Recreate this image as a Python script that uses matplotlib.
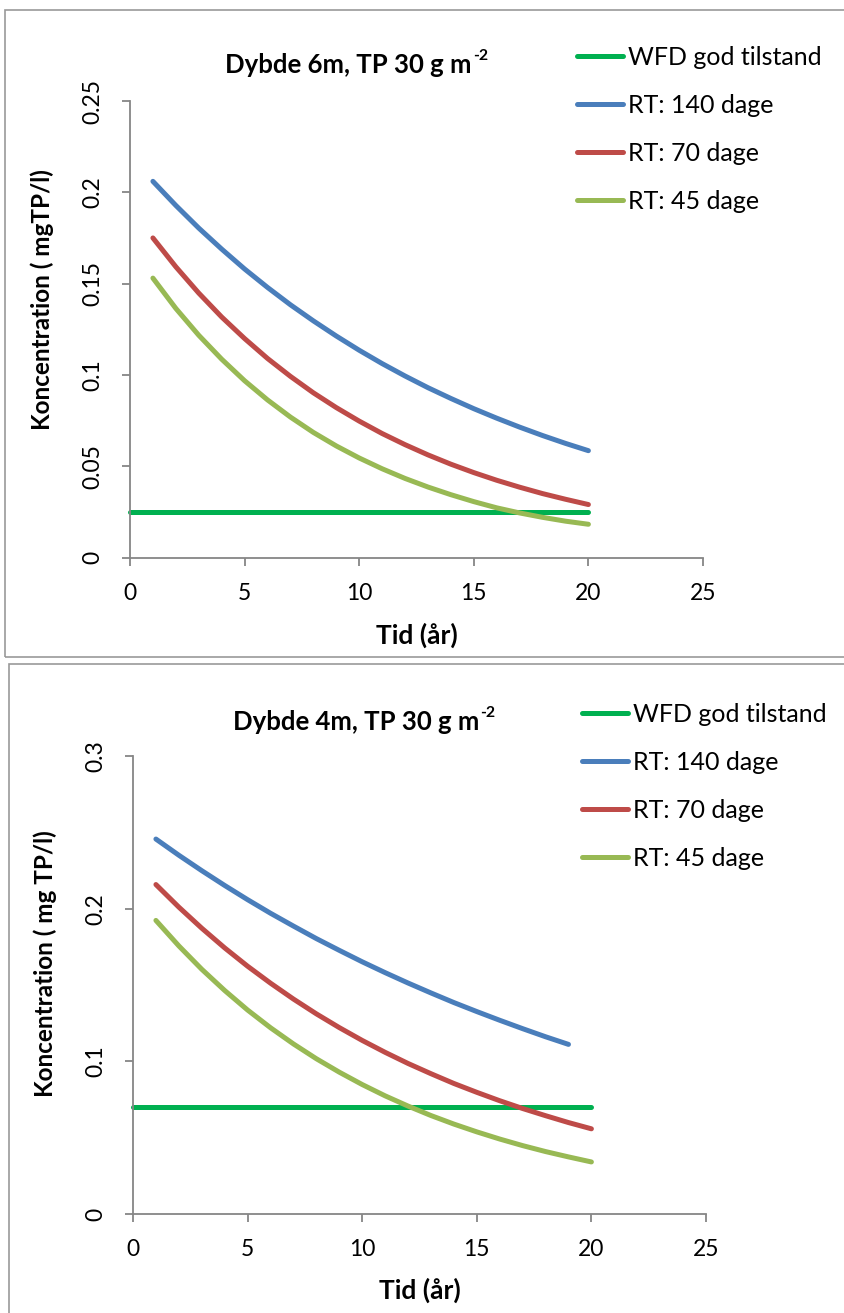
import numpy as np
import matplotlib.pyplot as plt
from matplotlib.patches import Rectangle

plt.rcParams['font.family'] = ['Lato', 'DejaVu Sans']

# years
years = list(range(1, 21))
years_4m_140 = list(range(1, 20))
wfd_x = [0, 20]

# Dybde 6m
wfd_6m = [0.025, 0.025]
rt140_6m = [0.206, 0.1928, 0.1804, 0.1689, 0.1580, 0.1479, 0.1384, 0.1296, 0.1213, 0.1135,
            0.1062, 0.0994, 0.0930, 0.0871, 0.0815, 0.0763, 0.0714, 0.0668, 0.0625, 0.0585]
rt70_6m = [0.175, 0.1592, 0.1448, 0.1317, 0.1199, 0.1090, 0.0992, 0.0902, 0.0821, 0.0747,
           0.0679, 0.0618, 0.0562, 0.0511, 0.0465, 0.0423, 0.0385, 0.0350, 0.0319, 0.0290]
rt45_6m = [0.153, 0.1364, 0.1217, 0.1086, 0.0968, 0.0863, 0.0769, 0.0685, 0.0611, 0.0545,
           0.0486, 0.0433, 0.0386, 0.0344, 0.0306, 0.0272, 0.0244, 0.0220, 0.0199, 0.0182]

# Dybde 4m
wfd_4m = [0.07, 0.07]
rt140_4m = [0.2456, 0.2350, 0.2249, 0.2152, 0.2059, 0.1970, 0.1886, 0.1804, 0.1727, 0.1652,
            0.1581, 0.1513, 0.1448, 0.1385, 0.1326, 0.1269, 0.1214, 0.1161, 0.1111]
rt70_4m = [0.2158, 0.2010, 0.1872, 0.1743, 0.1623, 0.1512, 0.1408, 0.1311, 0.1221, 0.1137,
           0.1059, 0.0986, 0.0919, 0.0855, 0.0797, 0.0742, 0.0691, 0.0644, 0.0599, 0.0558]
rt45_4m = [0.1923, 0.1756, 0.1603, 0.1464, 0.1336, 0.1220, 0.1114, 0.1017, 0.0929, 0.0848,
           0.0774, 0.0707, 0.0645, 0.0589, 0.0538, 0.0491, 0.0448, 0.0409, 0.0374, 0.0341]

labels = ['WFD god tilstand', 'RT: 140 dage', 'RT: 70 dage', 'RT: 45 dage']
colors = ['#00B050', '#4A7EBB', '#BE4B48', '#98B954']

W, H = 844, 1313
fig = plt.figure(figsize=(W / 100, H / 100), dpi=100)
renderer = fig.canvas.get_renderer()
grey = '#868686'

# panel frames
fig.add_artist(Rectangle((5 / W, 1 - 657 / H), 1, (657 - 10) / H, transform=fig.transFigure,
                         fill=False, ec='#999999', lw=1.2))
fig.add_artist(Rectangle((9 / W, -0.01), 1, 1 - 664 / H + 0.01, transform=fig.transFigure,
                         fill=False, ec='#999999', lw=1.2))


def title_with_sup(text, sup, cx, cy, size):
    t = fig.text(0, 1 - cy / H, text, ha='left', va='center', fontsize=size, fontweight='bold')
    s = fig.text(0, 1 - (cy - 9) / H, sup, ha='left', va='center', fontsize=size * 0.62,
                 fontweight='bold')
    w1 = t.get_window_extent(renderer).width
    w2 = s.get_window_extent(renderer).width
    x0 = cx - (w1 + w2) / 2
    t.set_x(x0 / W)
    s.set_x((x0 + w1 + 1) / W)


def panel(box, series, yticks, yticklabels, title, title_xy, ylabel, ylabel_xy, xlabel_y, leg_xy):
    ax = fig.add_axes([box[0] / W, 1 - box[3] / H, (box[2] - box[0]) / W, (box[3] - box[1]) / H])
    for i in range(4):
        ax.plot(series[i][0], series[i][1], color=colors[i], lw=3.6,
                solid_capstyle='round', label=labels[i], clip_on=False)
    ax.set_xlim(0, 25)
    ax.set_ylim(0, yticks[-1])
    ax.set_xticks([0, 5, 10, 15, 20, 25])
    ax.set_yticks(yticks)
    ax.set_yticklabels(yticklabels, rotation=90, va='center')
    for s in ['top', 'right']:
        ax.spines[s].set_visible(False)
    for s in ['left', 'bottom']:
        ax.spines[s].set_color(grey)
        ax.spines[s].set_linewidth(1.3)
    ax.tick_params(axis='both', direction='out', length=6, width=1.3, color=grey, labelsize=16.5)
    ax.tick_params(axis='y', pad=13)
    ax.tick_params(axis='x', pad=12)
    title_with_sup(title, '-2', title_xy[0], title_xy[1], 18.5)
    fig.text(ylabel_xy[0] / W, 1 - ylabel_xy[1] / H, ylabel, ha='center', va='center',
             rotation=90, fontsize=17.5, fontweight='bold')
    fig.text((box[0] + box[2]) / 2 / W, 1 - xlabel_y / H, 'Tid (år)', ha='center', va='center',
             fontsize=19, fontweight='bold')
    ax.legend(loc='upper left', bbox_to_anchor=(leg_xy[0] / W, 1 - leg_xy[1] / H),
              bbox_transform=fig.transFigure, frameon=False, fontsize=18, handlelength=1.85,
              handletextpad=0.2, labelspacing=1.0, borderpad=0, borderaxespad=0)
    return ax


panel((130, 101, 703, 557.5),
      [(wfd_x, wfd_6m), (years, rt140_6m), (years, rt70_6m), (years, rt45_6m)],
      [0, 0.05, 0.1, 0.15, 0.2, 0.25], ['0', '0.05', '0.1', '0.15', '0.2', '0.25'],
      'Dybde 6m, TP 30 g m', (356, 65),
      'Koncentration ( mgTP/l)', (42, 300), 635, (577, 46))

panel((133, 756, 706, 1214),
      [(wfd_x, wfd_4m), (years_4m_140, rt140_4m), (years, rt70_4m), (years, rt45_4m)],
      [0, 0.1, 0.2, 0.3], ['0', '0.1', '0.2', '0.3'],
      'Dybde 4m, TP 30 g m', (364, 722),
      'Koncentration ( mg TP/l)', (45, 964), 1290, (582, 703))

fig.savefig('out.png', dpi=100)
